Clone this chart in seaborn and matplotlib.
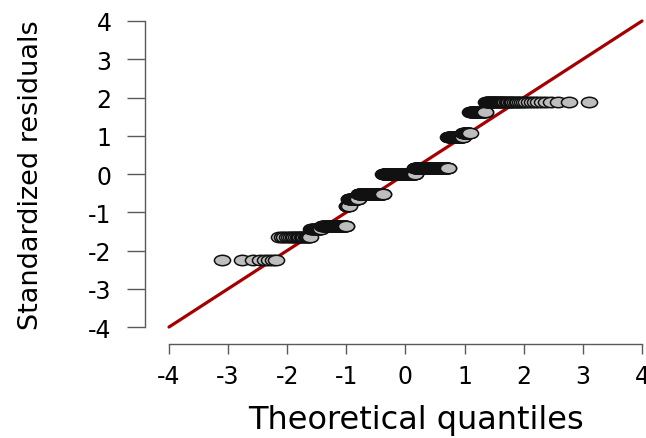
import statistics
import numpy as np
import pandas as pd
import matplotlib
matplotlib.use("Agg")
import matplotlib.pyplot as plt
import matplotlib.path as mpath
from matplotlib.markers import MarkerStyle
from matplotlib.transforms import Affine2D
import seaborn as sns

# ---- data ----
resid_levels = [-2.25, -1.64, -1.45, -1.35, -0.83, -0.65, -0.52, 0.0, 0.15, 0.96, 1.08, 1.61, 1.88]
level_counts = [8, 20, 12, 42, 5, 23, 72, 109, 104, 36, 14, 26, 45]
line_ends = [-4, 4]
tick_values = [-4, -3, -2, -1, 0, 1, 2, 3, 4]
x_title = "Theoretical quantiles"
y_title = "Standardized residuals"

# sample of standardized residuals (sorted) and its normal quantiles (as qqnorm)
resid = np.repeat(resid_levels, level_counts)
n = len(resid)
nd = statistics.NormalDist()
theo = [nd.inv_cdf((i - 0.5) / n) for i in range(1, n + 1)]
df = pd.DataFrame({"theo": theo, "resid": resid})
line_df = pd.DataFrame({"x": line_ends, "y": line_ends})

sns.set_theme(style="white")
plt.rcParams["font.family"] = ["DejaVu Sans"]

fig = plt.figure(figsize=(6.46, 4.39), dpi=100)
ax = fig.add_axes([0.2616, 0.2528, 0.7322, 0.6971])

sns.lineplot(data=line_df, x="x", y="y", ax=ax, color="#a50000", lw=2.3,
             zorder=1, clip_on=False)

ell = mpath.Path.unit_circle().transformed(Affine2D().scale(1.55, 1.0))
sns.scatterplot(data=df, x="theo", y="resid", ax=ax, marker=MarkerStyle(ell),
                s=135, color="#bebebe", edgecolor="#111111", linewidth=1.1,
                zorder=3, legend=False)

ax.set_xlim(-4, 4)
ax.set_ylim(-4, 4)
ax.set_xticks(tick_values)
ax.set_yticks(tick_values)
ax.set_xticklabels([str(v) for v in tick_values])
ax.set_yticklabels([str(v) for v in tick_values])

for side in ["top", "right"]:
    ax.spines[side].set_visible(False)
spine_col = "#5a5a5a"
ax.spines["left"].set_bounds(-4, 4)
ax.spines["bottom"].set_bounds(-4, 4)
ax.spines["left"].set_position(("outward", 17.3))
ax.spines["bottom"].set_position(("outward", 12.2))
for side in ["left", "bottom"]:
    ax.spines[side].set_color(spine_col)
    ax.spines[side].set_linewidth(1.0)

ax.tick_params(axis="y", direction="out", length=13, width=1.0, color=spine_col,
               pad=11, labelsize=17, labelcolor="black", left=True)
ax.tick_params(axis="x", direction="out", length=7.2, width=1.0, color=spine_col,
               pad=7, labelsize=17, labelcolor="black", bottom=True)

ax.set_xlabel(x_title, fontsize=23, color="black")
ax.set_ylabel(y_title, fontsize=19.5, color="black")
ax.xaxis.set_label_coords(0.522, -0.25)
ax.yaxis.set_label_coords(-0.265, 0.5)
ax.grid(False)

fig.savefig("out.png", dpi=100)
